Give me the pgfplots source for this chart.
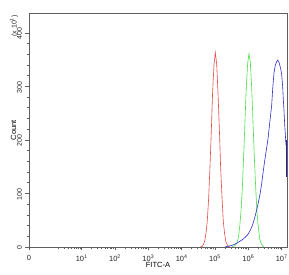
\documentclass[border=0pt]{standalone}
\usepackage{pgfplots}
\pgfplotsset{compat=1.18}
\usepackage{fontspec}
\setmainfont{Liberation Sans}
\definecolor{myred}{RGB}{232,72,72}
\definecolor{mygreen}{RGB}{70,225,70}
\definecolor{myblue}{RGB}{45,45,200}
\definecolor{axgray}{RGB}{95,95,95}
\begin{document}
\begin{tikzpicture}
\useasboundingbox (-29pt,-28pt) rectangle (260pt,247pt);
\begin{axis}[
  name=ax, at={(0,0)}, anchor=south west,
  scale only axis, width=258pt, height=234pt,
  xmin=-0.58, xmax=7.16, ymin=0, ymax=437,
  axis line style={axgray, line width=0.8pt},
  every tick/.style={axgray, line width=0.6pt},
  tick align=outside, xtick pos=bottom, ytick pos=left,
  major tick length=3.5pt, minor tick length=2.2pt,
  xtick={-0.58,1,2,3,4,5,6,7},
  xticklabels={0,10\textsuperscript{1},10\textsuperscript{2},10\textsuperscript{3},10\textsuperscript{4},10\textsuperscript{5},10\textsuperscript{6},10\textsuperscript{7}},
  minor xtick={0.301,0.477,0.602,0.699,0.778,0.845,0.903,0.954,
    1.301,1.477,1.602,1.699,1.778,1.845,1.903,1.954,
    2.301,2.477,2.602,2.699,2.778,2.845,2.903,2.954,
    3.301,3.477,3.602,3.699,3.778,3.845,3.903,3.954,
    4.301,4.477,4.602,4.699,4.778,4.845,4.903,4.954,
    5.301,5.477,5.602,5.699,5.778,5.845,5.903,5.954,
    6.301,6.477,6.602,6.699,6.778,6.845,6.903,6.954},
  ytick={0,100,200,300,400},
  minor y tick num=4,
  /pgf/number format/assume math mode=true,
  ticklabel style={font=\fontsize{7.5}{8}\selectfont, text=black!85},
  yticklabel style={rotate=90, anchor=south, xshift=-1pt, font=\fontsize{7}{8}\selectfont},
  xticklabel style={yshift=-1pt},
  xlabel={FITC-A}, ylabel={Count},
  xlabel style={font=\fontsize{7.5}{8}\selectfont, yshift=6pt},
  ylabel style={font=\fontsize{7.5}{8}\selectfont, yshift=-6pt},
  clip=true,
]
\addplot[myred, line width=0.6pt] coordinates {
(4.55,0) (4.61,1) (4.65,4) (4.69,11) (4.73,25) (4.77,50) (4.81,92) (4.85,150)
(4.89,218) (4.93,292) (4.97,340) (5.01,363) (5.05,342) (5.09,288) (5.13,222)
(5.17,147) (5.21,93) (5.25,47) (5.29,24) (5.33,9) (5.37,4) (5.41,1) (5.45,0)
};
\addplot[mygreen, line width=0.6pt] coordinates {
(5.50,0) (5.54,1) (5.58,2) (5.62,4) (5.66,8) (5.70,17) (5.74,37) (5.78,66)
(5.82,110) (5.86,170) (5.90,236) (5.94,300) (5.98,343) (6.02,361) (6.06,345)
(6.10,298) (6.14,234) (6.18,168) (6.22,112) (6.26,64) (6.30,36) (6.34,16)
(6.38,7) (6.42,3) (6.46,0)
};
\addplot[myblue, line width=0.6pt] coordinates {
(5.30,0) (5.35,1) (5.45,2) (5.55,4) (5.65,7) (5.75,11) (5.83,14) (5.90,18)
(5.98,23) (6.05,30) (6.12,40) (6.18,52) (6.23,64) (6.29,80) (6.35,98)
(6.40,118) (6.44,138) (6.50,165) (6.55,185) (6.59,202) (6.63,225) (6.67,248)
(6.70,264) (6.73,295) (6.77,325) (6.81,340) (6.85,346) (6.88,349) (6.92,345)
(6.95,338) (6.98,330) (7.00,322) (7.03,300) (7.05,275) (7.07,255) (7.09,230)
(7.11,210) (7.13,190)
};
\addplot[myblue!80!black, line width=0.9pt] coordinates {(7.13,200) (7.13,131)};
\end{axis}
\draw[axgray, line width=0.8pt] (ax.south west) rectangle (ax.north east);
\node[rotate=90, font=\fontsize{7}{8}\selectfont, text=black!85] at ([xshift=-15pt, yshift=-13pt]ax.north west) {(x 10\textsuperscript{1})};
\end{tikzpicture}
\end{document}
